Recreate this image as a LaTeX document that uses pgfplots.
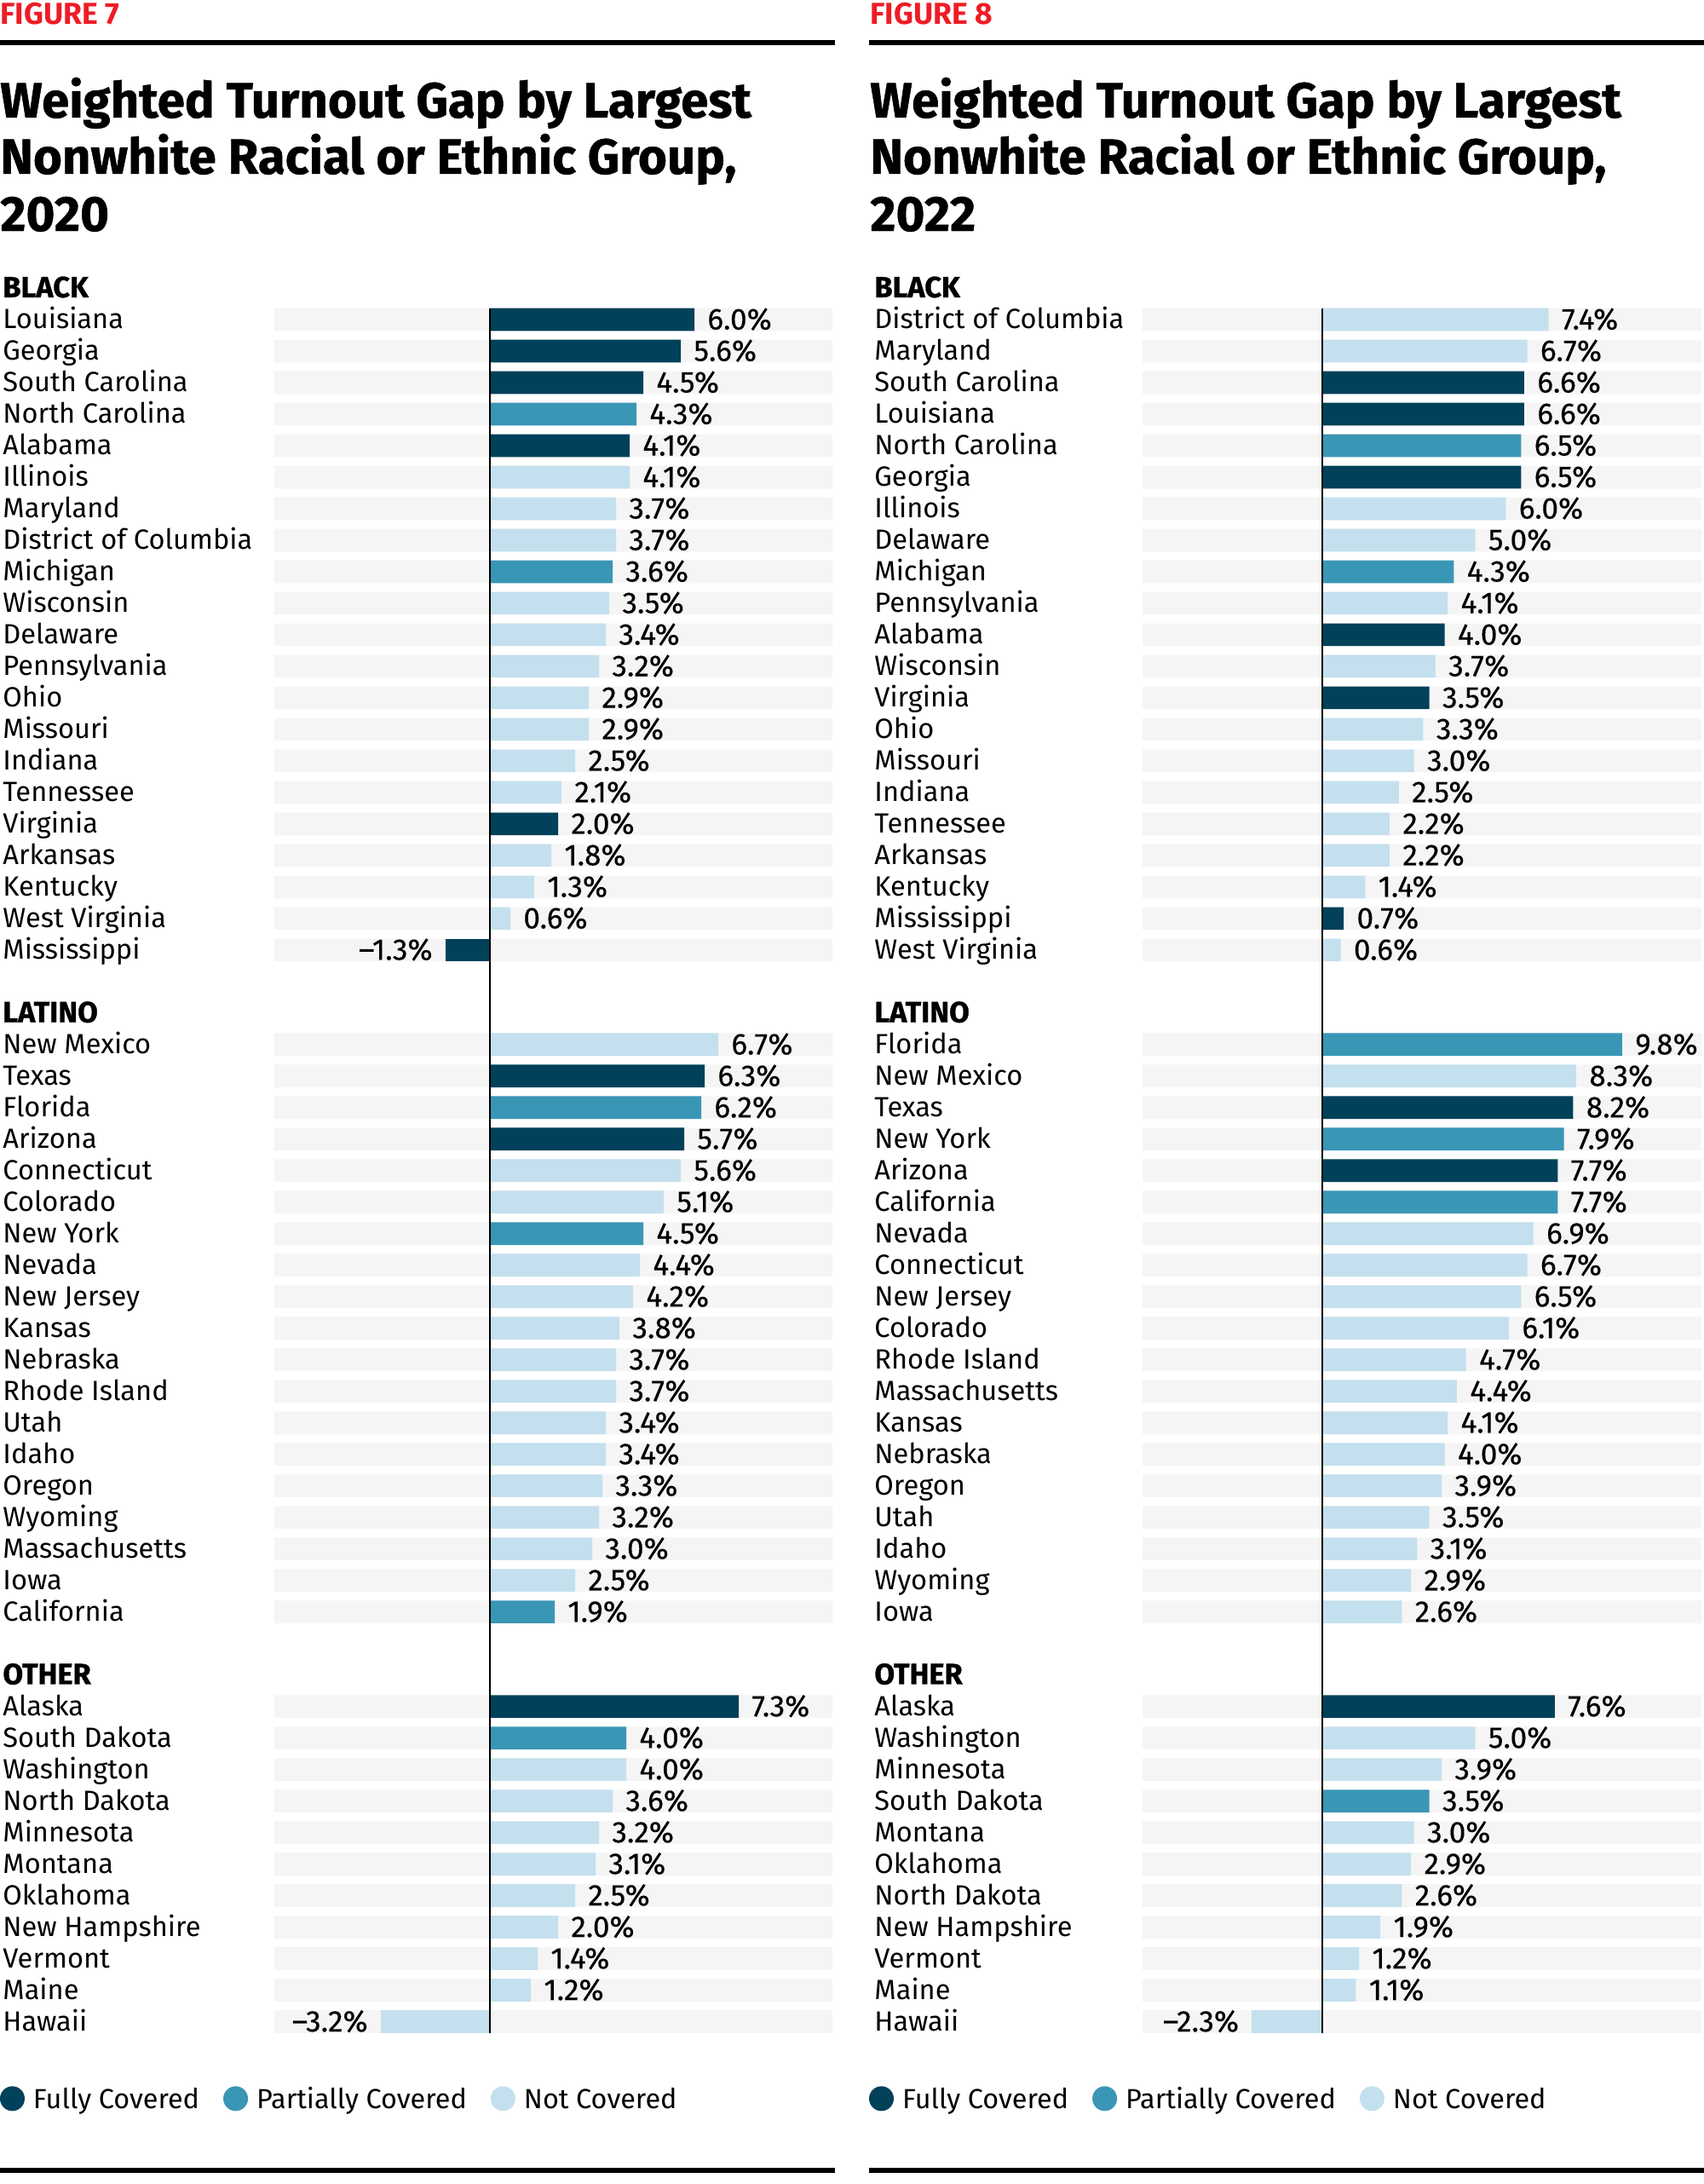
\documentclass[border=0pt]{standalone}
\usepackage{pgfplots}
\pgfplotsset{compat=1.18}
\usepackage{pgfplotstable}
\usepackage{fontspec}
\setmainfont{Fira Sans}
\newfontfamily\titlefont{Fira Sans}[BoldFeatures={FakeBold=0.8}]
\newfontfamily\valfont{Fira Sans}[FakeBold=0.35]
\definecolor{cdark}{HTML}{02415A}
\definecolor{cmid}{HTML}{3A96B5}
\definecolor{clight}{HTML}{C4E0EE}
\definecolor{cband}{HTML}{F5F5F5}
\definecolor{cred}{HTML}{EE1C25}
\newcommand{\hdr}[1]{{\titlefont\bfseries\fontsize{17.2}{20}\selectfont #1}}

% ---------- 2020 ----------
\pgfplotstableread{
y x lab
1 6.0 6.0
2 5.6 5.6
3 4.5 4.5
5 4.1 4.1
17 2.0 2.0
25 6.3 6.3
27 5.7 5.7
45 7.3 7.3
}\LeftDark
\pgfplotstableread{
y x lab
21 -1.3 –1.3
}\LeftDarkNeg
\pgfplotstableread{
y x lab
4 4.3 4.3
9 3.6 3.6
26 6.2 6.2
30 4.5 4.5
42 1.9 1.9
46 4.0 4.0
}\LeftMid
\pgfplotstableread{
y x lab
6 4.1 4.1
7 3.7 3.7
8 3.7 3.7
10 3.5 3.5
11 3.4 3.4
12 3.2 3.2
13 2.9 2.9
14 2.9 2.9
15 2.5 2.5
16 2.1 2.1
18 1.8 1.8
19 1.3 1.3
20 0.6 0.6
24 6.7 6.7
28 5.6 5.6
29 5.1 5.1
31 4.4 4.4
32 4.2 4.2
33 3.8 3.8
34 3.7 3.7
35 3.7 3.7
36 3.4 3.4
37 3.4 3.4
38 3.3 3.3
39 3.2 3.2
40 3.0 3.0
41 2.5 2.5
47 4.0 4.0
48 3.6 3.6
49 3.2 3.2
50 3.1 3.1
51 2.5 2.5
52 2.0 2.0
53 1.4 1.4
54 1.2 1.2
}\LeftLight
\pgfplotstableread{
y x lab
55 -3.2 –3.2
}\LeftLightNeg

% ---------- 2022 ----------
\pgfplotstableread{
y x lab
3 6.6 6.6
4 6.6 6.6
6 6.5 6.5
11 4.0 4.0
13 3.5 3.5
20 0.7 0.7
26 8.2 8.2
28 7.7 7.7
45 7.6 7.6
}\RightDark
\pgfplotstableread{
y x lab
5 6.5 6.5
9 4.3 4.3
24 9.8 9.8
27 7.9 7.9
29 7.7 7.7
48 3.5 3.5
}\RightMid
\pgfplotstableread{
y x lab
1 7.4 7.4
2 6.7 6.7
7 6.0 6.0
8 5.0 5.0
10 4.1 4.1
12 3.7 3.7
14 3.3 3.3
15 3.0 3.0
16 2.5 2.5
17 2.2 2.2
18 2.2 2.2
19 1.4 1.4
21 0.6 0.6
25 8.3 8.3
30 6.9 6.9
31 6.7 6.7
32 6.5 6.5
33 6.1 6.1
34 4.7 4.7
35 4.4 4.4
36 4.1 4.1
37 4.0 4.0
38 3.9 3.9
39 3.5 3.5
40 3.1 3.1
41 2.9 2.9
42 2.6 2.6
46 5.0 5.0
47 3.9 3.9
49 3.0 3.0
50 2.9 2.9
51 2.6 2.6
52 1.9 1.9
53 1.2 1.2
54 1.1 1.1
}\RightLight
\pgfplotstableread{
y x lab
55 -2.3 –2.3
}\RightLightNeg

% rows that carry a grey band
\pgfplotstableread{
y
1
2
3
4
5
6
7
8
9
10
11
12
13
14
15
16
17
18
19
20
21
24
25
26
27
28
29
30
31
32
33
34
35
36
37
38
39
40
41
42
45
46
47
48
49
50
51
52
53
54
55
}\Rows

\pgfplotsset{
  panel/.style={
    scale only axis, anchor=north west,
    height=1035.8pt, ymin=-0.5, ymax=55.5, y dir=reverse,
    axis lines=left, axis line style={draw=none},
    xtick=\empty,
    ytick={0,1,...,21,23,24,...,42,44,45,...,55},
    major tick length=0pt, ytick style={draw=none},
    yticklabel style={anchor=west, inner sep=0pt, text height=10.85pt, text depth=0pt,
      font=\fontsize{16.3}{18}\selectfont, text=black},
    clip=false,
  },
  valbar/.style={xbar, bar width=0.72, bar shift=0pt, draw=none, fill=#1, forget plot,
    point meta=explicit symbolic, nodes near coords={\pgfplotspointmeta\%},
    every node near coord/.append style={font=\valfont\fontsize{17.6}{20}\selectfont, anchor=west,
      inner xsep=7.5pt, inner ysep=0pt, text height=11.6pt, text depth=0pt, text=black}},
  negbar/.style={valbar=#1,
    every node near coord/.append style={anchor=east}},
  bandbar/.style={xbar, bar width=0.72, bar shift=0pt, draw=none, fill=cband, forget plot},
  legstyle/.style={
    legend columns=3,
    legend style={draw=none, fill=none, inner sep=0pt, outer sep=0pt,
      font=\fontsize{16.2}{20}\selectfont,
      nodes={inner sep=0pt, text height=12pt, text depth=0pt},
      /tikz/every odd column/.append style={column sep=5pt},
      /tikz/every even column/.append style={column sep=14pt}},
  },
}

\begin{document}
\begin{tikzpicture}
\useasboundingbox (0pt,0pt) rectangle (1000pt,-1281.5pt);
\fill[white] (0pt,0pt) rectangle (1000pt,-1281.5pt);

% ---------------- headers ----------------
\node[anchor=base west, inner sep=0pt, text=cred, font=\bfseries\fontsize{17.8}{20}\selectfont] at (0pt,-14.5pt) {FIGURE 7};
\node[anchor=base west, inner sep=0pt, text=cred, font=\bfseries\fontsize{17.8}{20}\selectfont] at (510.5pt,-14.5pt) {FIGURE 8};
\draw[line width=3pt] (0pt,-25pt) -- (490pt,-25pt);
\draw[line width=3pt] (510pt,-25pt) -- (1000pt,-25pt);
\draw[line width=3pt] (0pt,-1273.5pt) -- (490pt,-1273.5pt);
\draw[line width=3pt] (510pt,-1273.5pt) -- (1000pt,-1273.5pt);

\begin{scope}[every node/.style={anchor=base west, inner sep=0pt, font=\titlefont\bfseries\fontsize{29.1}{33}\selectfont}]
\node at (0pt,-69pt) {Weighted Turnout Gap by Largest};
\node at (0pt,-102pt) {Nonwhite Racial or Ethnic Group,};
\node at (0pt,-135.5pt) {2020};
\node at (510.5pt,-69pt) {Weighted Turnout Gap by Largest};
\node at (510.5pt,-102pt) {Nonwhite Racial or Ethnic Group,};
\node at (510.5pt,-135.5pt) {2022};
\end{scope}

% ---------------- Figure 7 (2020) ----------------
\begin{axis}[panel, at={(161pt,-159.75pt)}, width=327.5pt,
  xmin=-6.325, xmax=10.05,
  yticklabel style={xshift=-159.5pt},
  yticklabels={\hdr{BLACK}, Louisiana, Georgia, South Carolina, North Carolina, Alabama, Illinois, Maryland, District of Columbia, Michigan, Wisconsin, Delaware, Pennsylvania, Ohio, Missouri, Indiana, Tennessee, Virginia, Arkansas, Kentucky, West Virginia, Mississippi, \hdr{LATINO}, New Mexico, Texas, Florida, Arizona, Connecticut, Colorado, New York, Nevada, New Jersey, Kansas, Nebraska, Rhode Island, Utah, Idaho, Oregon, Wyoming, Massachusetts, Iowa, California, \hdr{OTHER}, Alaska, South Dakota, Washington, North Dakota, Minnesota, Montana, Oklahoma, New Hampshire, Vermont, Maine, Hawaii},
  legstyle,
  legend style={at={(-0.4916,-0.03466)}, anchor=west},
  legend image code/.code={\fill[#1] (7.25pt,0pt) circle[radius=7.25pt];},
]
\addplot[bandbar] table[x expr=10.05, y=y] {\Rows};
\addplot[bandbar] table[x expr=-6.325, y=y] {\Rows};
\addplot[valbar=cdark] table[x=x, y=y, meta=lab] {\LeftDark};
\addplot[negbar=cdark] table[x=x, y=y, meta=lab] {\LeftDarkNeg};
\addplot[valbar=cmid] table[x=x, y=y, meta=lab] {\LeftMid};
\addplot[valbar=clight] table[x=x, y=y, meta=lab] {\LeftLight};
\addplot[negbar=clight] table[x=x, y=y, meta=lab] {\LeftLightNeg};
\addplot[black, line width=1pt, forget plot, mark=none] coordinates {(0,0.64) (0,55.36)};
\addlegendimage{fill=cdark, draw=none}\addlegendentry{Fully Covered}
\addlegendimage{fill=cmid, draw=none}\addlegendentry{Partially Covered}
\addlegendimage{fill=clight, draw=none}\addlegendentry{Not Covered}
\end{axis}

% ---------------- Figure 8 (2022) ----------------
\begin{axis}[panel, at={(670.5pt,-159.75pt)}, width=328pt,
  xmin=-5.877, xmax=12.396,
  yticklabel style={xshift=-157.5pt},
  yticklabels={\hdr{BLACK}, District of Columbia, Maryland, South Carolina, Louisiana, North Carolina, Georgia, Illinois, Delaware, Michigan, Pennsylvania, Alabama, Wisconsin, Virginia, Ohio, Missouri, Indiana, Tennessee, Arkansas, Kentucky, Mississippi, West Virginia, \hdr{LATINO}, Florida, New Mexico, Texas, New York, Arizona, California, Nevada, Connecticut, New Jersey, Colorado, Rhode Island, Massachusetts, Kansas, Nebraska, Oregon, Utah, Idaho, Wyoming, Iowa, \hdr{OTHER}, Alaska, Washington, Minnesota, South Dakota, Montana, Oklahoma, North Dakota, New Hampshire, Vermont, Maine, Hawaii},
  legstyle,
  legend style={at={(-0.4893,-0.03466)}, anchor=west},
  legend image code/.code={\fill[#1] (7.25pt,0pt) circle[radius=7.25pt];},
]
\addplot[bandbar] table[x expr=12.396, y=y] {\Rows};
\addplot[bandbar] table[x expr=-5.877, y=y] {\Rows};
\addplot[valbar=cdark] table[x=x, y=y, meta=lab] {\RightDark};
\addplot[valbar=cmid] table[x=x, y=y, meta=lab] {\RightMid};
\addplot[valbar=clight] table[x=x, y=y, meta=lab] {\RightLight};
\addplot[negbar=clight] table[x=x, y=y, meta=lab] {\RightLightNeg};
\addplot[black, line width=1pt, forget plot, mark=none] coordinates {(0,0.64) (0,55.36)};
\addlegendimage{fill=cdark, draw=none}\addlegendentry{Fully Covered}
\addlegendimage{fill=cmid, draw=none}\addlegendentry{Partially Covered}
\addlegendimage{fill=clight, draw=none}\addlegendentry{Not Covered}
\end{axis}
\end{tikzpicture}
\end{document}
